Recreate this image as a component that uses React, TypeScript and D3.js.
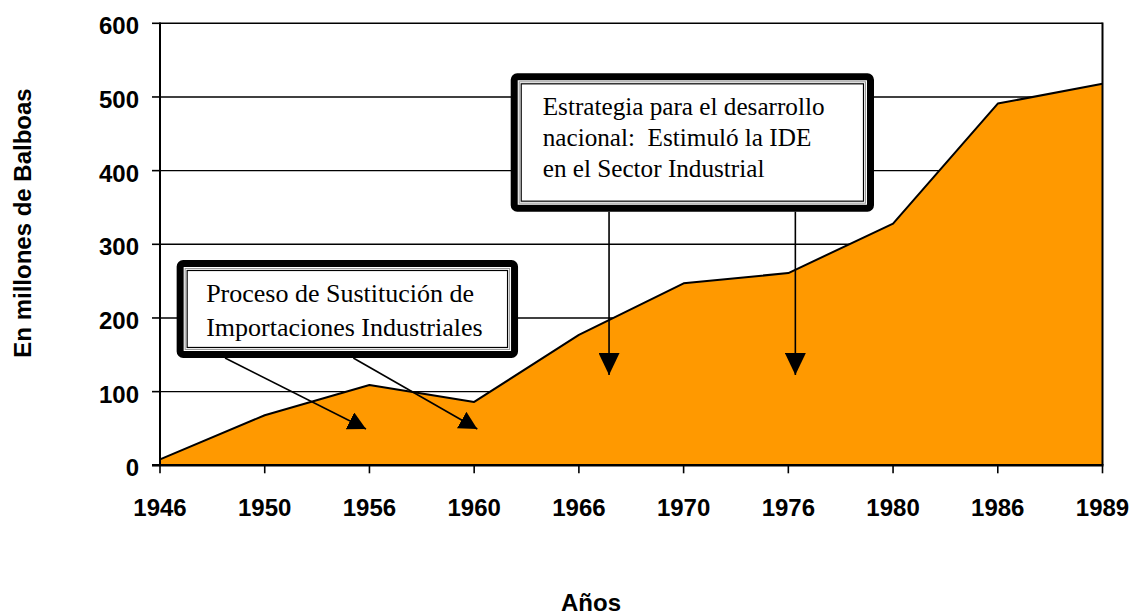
import React from 'react';
import * as d3 from 'd3';

// Inversión directa extranjera en Panamá (millones de balboas)
const years = ['1946', '1950', '1956', '1960', '1966', '1970', '1976', '1980', '1986', '1989'];
const ide = [8, 68, 109, 86, 177, 247, 261, 328, 491, 518];
const yTicks = [0, 100, 200, 300, 400, 500, 600];

const sustitucionText = ['Proceso de Sustitución de', 'Importaciones Industriales'];
const estrategiaText = ['Estrategia para el desarrollo', 'nacional:  Estimuló la IDE', 'en el Sector Industrial'];

const W = 1131;
const H = 616;
const M = { left: 160, right: 1102.5, top: 23.3, bottom: 465.3 };
const SANS = '"Liberation Sans", Arial, sans-serif';
const SERIF = '"Liberation Serif", "Times New Roman", serif';

type Box = { i0: number; i1: number; vTop: number; vBot: number };

const CalloutBox = ({ b, lines, xi, y, tx, ty, gap, size }: {
  b: Box; lines: string[]; xi: d3.ScaleLinear<number, number>; y: d3.ScaleLinear<number, number>;
  tx: number; ty: number; gap: number; size: number;
}) => {
  const x0 = xi(b.i0), x1 = xi(b.i1), y0 = y(b.vTop), y1 = y(b.vBot);
  const w = x1 - x0, h = y1 - y0;
  return (
    <g>
      <rect x={x0 + 3.5} y={y0 + 3.5} width={w - 7} height={h - 7} rx={3} fill="#fff" stroke="#000" strokeWidth={7} />
      <rect x={x0 + 8.5} y={y0 + 8.5} width={w - 17} height={h - 17} fill="none" stroke="#999" strokeWidth={1} />
      <rect x={x0 + 10.5} y={y0 + 10.5} width={w - 21} height={h - 21} fill="none" stroke="#000" strokeWidth={1.2} />
      {lines.map((t, k) => (
        <text key={k} x={x0 + tx} y={y0 + ty + k * gap} fontFamily={SERIF} fontSize={size}
          fill="#000" style={{ whiteSpace: 'pre' }}>{t}</text>
      ))}
    </g>
  );
};

export default function App() {
  const x = d3.scalePoint<string>().domain(years).range([M.left, M.right]);
  // linear index scale for placing the callouts between categories
  const xi = d3.scaleLinear().domain([0, years.length - 1]).range([M.left, M.right]);
  const y = d3.scaleLinear().domain([0, 600]).range([M.bottom, M.top]);

  const area = d3.area<number>()
    .x((_, i) => x(years[i]) as number)
    .y0(y(0))
    .y1(d => y(d));
  const line = d3.line<number>()
    .x((_, i) => x(years[i]) as number)
    .y(d => y(d));

  const box1: Box = { i0: 0.159, i1: 3.419, vTop: 278.7, vBot: 145.7 };
  const box2: Box = { i0: 3.349, i1: 6.818, vTop: 532.1, vBot: 344.3 };
  const arrows = [
    { i0: 0.621, v0: box1.vBot, i1: 1.967, v1: 49.3, m: 'diag' },
    { i0: 1.846, v0: box1.vBot, i1: 3.03, v1: 49.3, m: 'diag' },
    { i0: 4.288, v0: box2.vBot, i1: 4.288, v1: 122.6, m: 'vert' },
    { i0: 6.067, v0: box2.vBot, i1: 6.067, v1: 122.6, m: 'vert' },
  ];

  return (
    <svg width={W} height={H} style={{ position: 'absolute', left: 0, top: 0, background: '#fff' }}>
      <defs>
        <marker id="diag" viewBox="0 0 10 10" refX={10} refY={5} markerUnits="userSpaceOnUse"
          markerWidth={18} markerHeight={19} orient="auto" preserveAspectRatio="none">
          <path d="M0,0L10,5L0,10Z" fill="#000" />
        </marker>
        <marker id="vert" viewBox="0 0 10 10" refX={10} refY={5} markerUnits="userSpaceOnUse"
          markerWidth={22} markerHeight={21} orient="auto" preserveAspectRatio="none">
          <path d="M0,0L10,5L0,10Z" fill="#000" />
        </marker>
      </defs>

      {/* gridlines */}
      {yTicks.filter(t => t > 0).map(t => (
        <line key={t} x1={M.left} x2={M.right} y1={y(t)} y2={y(t)} stroke="#000" strokeWidth={1.4} />
      ))}

      <path d={area(ide) ?? ''} fill="#FF9900" />
      <path d={line(ide) ?? ''} fill="none" stroke="#000" strokeWidth={2} strokeLinejoin="round" />

      {/* axes and plot border */}
      <line x1={M.left} x2={M.left} y1={M.top - 0.7} y2={M.bottom} stroke="#000" strokeWidth={2} />
      <line x1={M.right} x2={M.right} y1={M.top - 0.7} y2={M.bottom} stroke="#000" strokeWidth={2} />
      <line x1={M.left - 8} x2={M.right + 1} y1={M.bottom} y2={M.bottom} stroke="#000" strokeWidth={2.4} />

      {yTicks.map(t => (
        <g key={t}>
          <line x1={M.left - 8} x2={M.left} y1={y(t)} y2={y(t)} stroke="#000" strokeWidth={1.6} />
          <text x={139} y={y(t) + 11} textAnchor="end" fontFamily={SANS} fontWeight="bold" fontSize={24}>{t}</text>
        </g>
      ))}
      {years.map(yr => (
        <g key={yr}>
          <line x1={x(yr)} x2={x(yr)} y1={M.bottom} y2={M.bottom + 8} stroke="#000" strokeWidth={1.6} />
          <text x={x(yr)} y={516} textAnchor="middle" fontFamily={SANS} fontWeight="bold" fontSize={24}>{yr}</text>
        </g>
      ))}

      <text transform="translate(31,223) rotate(-90)" textAnchor="middle" fontFamily={SANS}
        fontWeight="bold" fontSize={24}>En millones de Balboas</text>
      <text x={591} y={611} textAnchor="middle" fontFamily={SANS} fontWeight="bold" fontSize={24}>Años</text>

      {/* callouts */}
      <CalloutBox b={box1} lines={sustitucionText} xi={xi} y={y} tx={29.5} ty={41.7} gap={34.3} size={26} />
      <CalloutBox b={box2} lines={estrategiaText} xi={xi} y={y} tx={32} ty={42} gap={31} size={25.2} />

      {arrows.map((a, k) => (
        <line key={k} x1={xi(a.i0)} y1={y(a.v0)} x2={xi(a.i1)} y2={y(a.v1)} stroke="#000" strokeWidth={1.6}
          markerEnd={`url(#${a.m})`} />
      ))}
    </svg>
  );
}
